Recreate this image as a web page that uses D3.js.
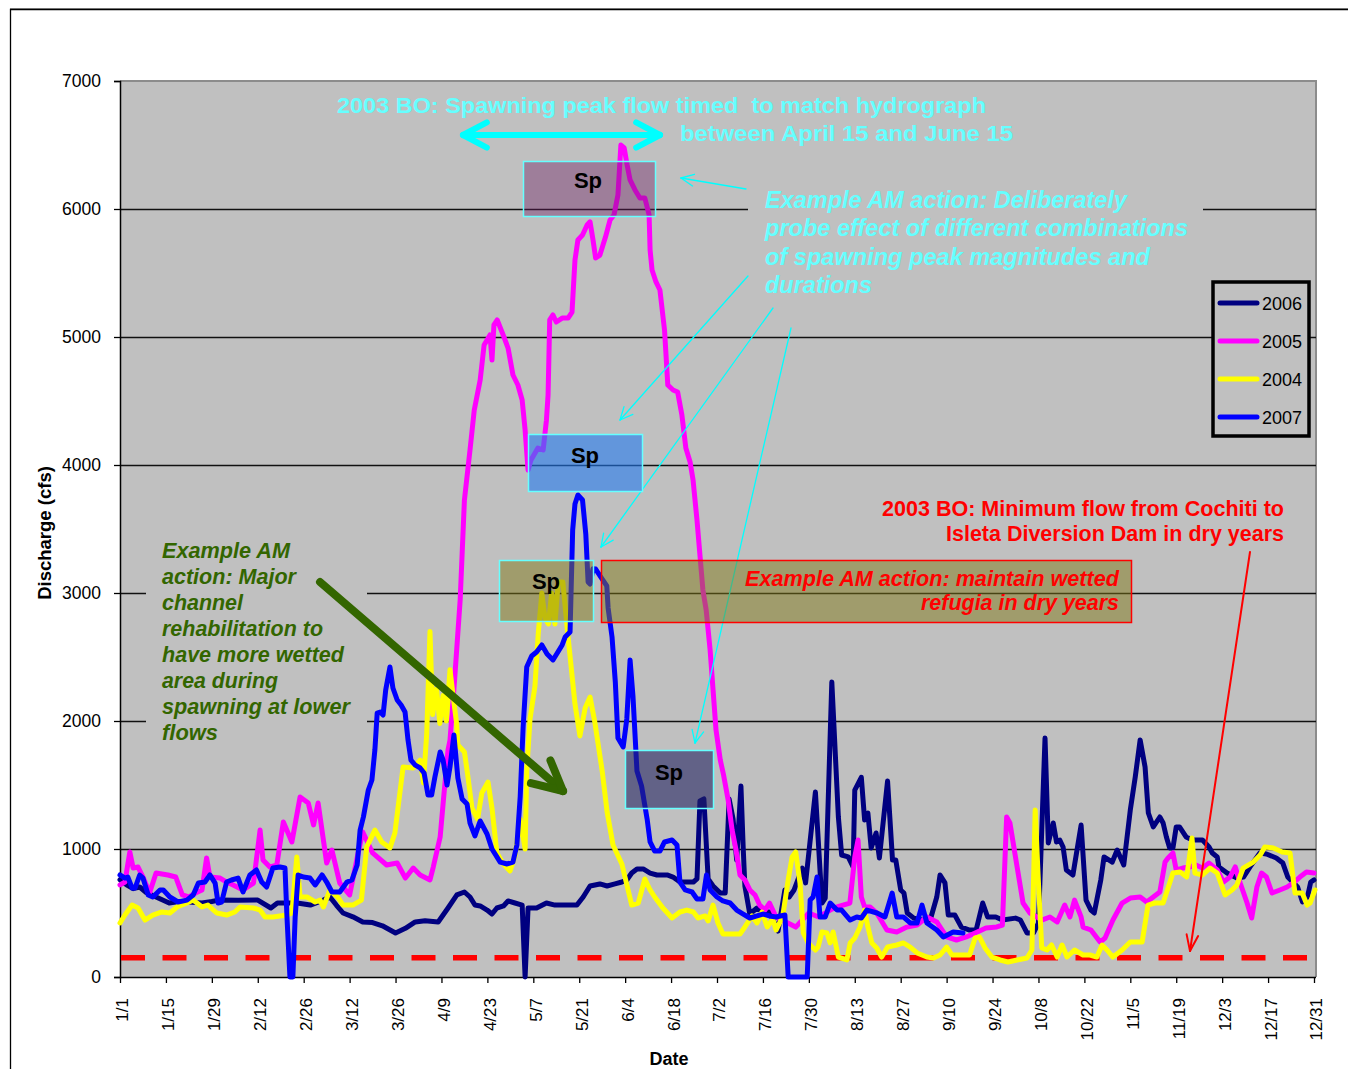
<!DOCTYPE html>
<html><head><meta charset="utf-8">
<script src="https://cdn.jsdelivr.net/npm/d3@7"></script>
<style>
body{margin:0;background:#fff}
svg{display:block}
text{font-family:"Liberation Sans",Arial,Helvetica,sans-serif}
</style>
</head><body>
<svg id="chart" width="1348" height="1069"></svg>
<script>
// ---------------- DATA ----------------
const tickDays = [0,14,28,42,56,70,84,98,112,126,140,154,168,182,196,210,224,238,252,266,280,294,308,322,336,350,364];
const tickLabels = ["1/1","1/15","1/29","2/12","2/26","3/12","3/26","4/9","4/23","5/7","5/21","6/4","6/18","7/2","7/16","7/30","8/13","8/27","9/10","9/24","10/8","10/22","11/5","11/19","12/3","12/17","12/31"];
const yTicks = [0,1000,2000,3000,4000,5000,6000,7000];
const seriesNames = ["2006","2005","2004","2007"];
const minFlow2003BO = 150;

// [day of year, discharge cfs]
const flow2006 = [[0,760],[2,720],[4,690],[6,703],[8,660],[11,625],[15,578],[18,590],[21,586],[25,578],[28,590],[30,601],[36,600],[42,601],[46,539],[48,578],[54,578],[58,562],[62,601],[64,625],[66,560],[68,500],[71,470],[74,430],[77,425],[80,400],[84,344],[87,380],[90,430],[93,440],[97,430],[100,539],[102.7,641],[105,664],[106.7,625],[108.2,562],[109.8,555],[111.9,523],[113.4,492],[114.9,539],[116.9,555],[118.3,594],[120.4,578],[122.6,562],[123.5,0],[124.4,539],[127,539],[130,578],[132.6,562],[135,562],[137.2,562],[139.3,562],[141.2,625],[143.3,711],[146.3,727],[148.5,711],[150.9,727],[153,742],[154.5,758],[156,812],[157.6,844],[159.5,844],[161.6,812],[163.7,797],[166.8,797],[168.6,781],[170.7,742],[172.8,742],[174.8,742],[175.9,766],[176.8,1375],[178,1391],[179.3,766],[180.8,711],[183,656],[184.5,656],[185.7,1391],[186.9,1234],[188,914],[189.3,1492],[190,1000],[190.5,711],[192,492],[194.2,539],[196,508],[198,508],[200.6,359],[202.7,680],[204,625],[205.5,680],[208,850],[209,735],[212,1445],[214,578],[215,617],[217,2305],[219,1250],[220,953],[222,938],[223.5,860],[224,1460],[226,1560],[227,1227],[228,1281],[229,1008],[230.5,1125],[231.5,930],[234,1531],[235.5,914],[236.5,914],[238,680],[239,656],[240,500],[242,460],[244.5,445],[247,445],[249,625],[250,797],[251.5,735],[252.5,484],[254.5,484],[256.5,390],[259,367],[261,367],[263,578],[264.5,469],[267,469],[269,445],[273,460],[274.5,445],[276.5,344],[278.5,344],[280,422],[282,1867],[283,1047],[284.5,1203],[285.5,1055],[286.5,1070],[287.5,1016],[288.5,836],[290.5,797],[293,1187],[294.5,600],[296,523],[297,500],[299,758],[300,938],[302.5,898],[304,992],[306,875],[308,1305],[309.5,1562],[311,1852],[312.5,1641],[313.5,1281],[315,1172],[317,1250],[318,1203],[319,1094],[320,1008],[321,1008],[322,1172],[323,1172],[325,1094],[327,1070],[330,1070],[332,1016],[333,969],[334.5,938],[335,860],[337.5,812],[340.5,773],[342.5,781],[344.5,860],[347.5,969],[349.5,961],[352.5,930],[354.5,890],[356,781],[359,703],[360.5,586],[362,625],[363,742],[364,758]];

const flow2005 = [[0,719],[1.5,742],[3,977],[4,851],[5.5,859],[7,781],[9,656],[11,812],[14.6,797],[17,781],[19,641],[21,625],[23,656],[25,680],[26.4,930],[27.4,781],[30.5,773],[32.5,742],[34.5,719],[37.5,680],[40.7,734],[42.7,1148],[43.6,914],[45.7,859],[47.8,875],[49.8,1211],[52.4,1055],[54.9,1406],[57.4,1359],[59,1188],[60.4,1359],[63,891],[64.6,992],[67,734],[70,641],[72.6,969],[74,1133],[77,969],[81.3,875],[84.5,891],[87,773],[89.4,851],[91.5,797],[94.5,758],[95.5,859],[97.6,1094],[98.6,1383],[100,1773],[100.6,1850],[102,2320],[103.7,2945],[105,3727],[106.7,4117],[108,4430],[109.8,4664],[111,4937],[112.8,5016],[113.4,4820],[114,5094],[115,5133],[116.8,5016],[118.3,4914],[119.8,4703],[121.3,4625],[122.6,4508],[123.5,4273],[124.4,3960],[125.3,4040],[127.4,4133],[129,4117],[130,4350],[130.5,4547],[131,5133],[132,5172],[133,5117],[134.8,5148],[136.6,5148],[137.8,5195],[138.7,5600],[139.6,5758],[141,5797],[142.4,5875],[143.3,5900],[144.2,5758],[145,5617],[146.3,5640],[148,5781],[149.4,5914],[150.6,5953],[151.8,6109],[152.7,6500],[153.7,6477],[154.6,6344],[155.5,6227],[157,6149],[158.5,6086],[160,6086],[161.3,5953],[161.6,5680],[162.2,5523],[163.4,5430],[164.6,5367],[166,5055],[167,4625],[168.6,4586],[170,4570],[171.3,4390],[172.5,4133],[173.8,4023],[174.7,3883],[175.9,3570],[176.8,3297],[177.7,3023],[178.7,2867],[179.9,2555],[180.8,2242],[181.7,1930],[183,1695],[184,1578],[185.4,1383],[186.6,1148],[187.8,992],[189,797],[190.5,758],[192,680],[193.6,640],[195,562],[196.6,523],[198,578],[200,469],[203,430],[206,390],[208,445],[210,500],[213,469],[216.5,523],[218.6,547],[222.5,578],[224,938],[225,1070],[226,625],[227,547],[228.7,547],[230.7,500],[233.8,367],[236.8,352],[239.9,390],[243,406],[246,469],[249,430],[252,313],[255,289],[258,313],[260.7,344],[264,383],[267.3,391],[269,406],[270.3,1250],[271.3,1203],[273.5,859],[275.3,578],[277.4,500],[279.5,469],[281,445],[283.5,469],[285.7,430],[288,562],[289.6,469],[291,601],[293,469],[293.6,390],[296,367],[298.8,273],[300.3,305],[302.7,445],[305.5,578],[308,617],[311,625],[313,586],[315,625],[317,664],[318.6,898],[319.5,930],[321,969],[322,836],[324,851],[326,859],[328,875],[330,851],[332,890],[334.5,836],[336.4,742],[338.4,781],[340,860],[341.5,734],[343.6,578],[345,461],[346.6,703],[348,812],[349.5,781],[351.2,656],[353.6,680],[355.8,703],[357.6,734],[359.7,781],[361.7,820],[364,812]];

const flow2004 = [[0,422],[1.5,484],[3.7,562],[5.5,539],[7.6,445],[10,484],[12.8,508],[15.2,500],[17.4,547],[20.4,578],[22.3,601],[25,547],[26.8,562],[29.5,500],[32.5,484],[35,508],[36.6,547],[40.7,539],[42.7,523],[44.2,469],[46.6,469],[50.9,484],[52.4,500],[53.9,938],[54.9,625],[57,625],[59.5,586],[61,601],[62,547],[64,680],[66.6,617],[68,562],[71,562],[73.6,601],[75.2,1016],[77.7,1148],[79.8,1055],[82.3,1008],[83.8,1125],[86.3,1641],[89.4,1633],[91.5,1695],[92.5,1516],[93.5,1900],[94.5,2700],[95.3,2050],[96.5,2250],[97.5,1980],[98.5,2200],[99.5,2000],[100.6,2400],[101.6,2187],[102.6,1984],[103,1812],[105,1758],[106,1578],[107.3,1320],[109,1234],[110.3,1437],[112.2,1523],[113.4,1320],[114.9,969],[116.9,883],[118.9,828],[120.4,945],[122,1234],[123.5,1000],[124,1609],[125,2016],[126.5,2273],[127.5,2680],[128.6,3000],[129.6,2797],[130.6,2758],[131.6,3000],[132.6,2758],[133.6,3086],[135,3086],[136.6,2656],[138.7,2133],[140.2,1883],[141.8,2102],[143.3,2187],[144.8,1984],[147,1609],[148.5,1289],[150.3,1031],[153,883],[154.9,680],[156,562],[158,578],[160,766],[161.6,680],[163,625],[165.5,539],[168.3,461],[170.7,508],[172.8,523],[174.8,508],[176.2,461],[178.4,477],[179.3,438],[180.8,562],[182.3,422],[183.8,336],[186.6,336],[189,336],[190.5,391],[192.7,477],[194.2,422],[195.7,508],[197.3,391],[199,453],[200,367],[202,469],[203.7,758],[204.9,938],[206,977],[207.3,734],[208.3,344],[209.8,266],[212,211],[212.8,234],[214,352],[215.5,344],[216.5,266],[217.4,352],[219,156],[221.6,133],[222.6,266],[224,305],[225.6,391],[227,523],[228,391],[229.2,266],[230.7,227],[232.2,156],[234,234],[236.8,250],[238.8,266],[240.9,234],[243,188],[246,156],[248,148],[250,172],[252,234],[253.6,172],[256,172],[259,172],[260.7,305],[262,313],[263.7,227],[265.8,156],[268.3,133],[270.7,117],[273.5,133],[276.5,148],[278,211],[279,1305],[280,734],[281,227],[282.6,211],[284,250],[285.7,156],[287.2,250],[288.7,156],[291,211],[293.6,172],[295.7,172],[297.8,156],[299.4,250],[300.9,211],[302.7,156],[305.5,211],[308,273],[311.6,273],[313.4,562],[315.5,578],[318,578],[319.5,695],[321,812],[323.2,820],[325.2,781],[326.8,1086],[327.7,812],[330,797],[332.3,851],[334.5,812],[336.9,641],[339,680],[340.5,719],[342.4,851],[345.5,898],[347.6,953],[349,1016],[351.6,1008],[354.3,977],[356.7,969],[358.2,656],[360.4,656],[361.9,562],[362.8,578],[364.3,680]];

const flow2007 = [[0,797],[1.5,773],[2.4,781],[3.7,695],[4.6,695],[6,797],[7,773],[8.6,641],[10,625],[12.2,680],[13.2,680],[15.2,625],[17.7,586],[20.4,601],[22.3,641],[23.9,734],[25.9,742],[27.4,797],[29,734],[29.9,578],[31,586],[32.5,742],[34,758],[36,773],[37.5,664],[39.6,797],[41.6,836],[43.2,742],[44.7,703],[46.6,851],[48.8,859],[50.3,851],[50.9,469],[51.8,0],[52.7,0],[53.4,469],[54.3,797],[55.9,781],[57.9,773],[59.5,719],[61.6,797],[63,742],[64.6,664],[67,664],[69.2,742],[70.7,758],[72.3,875],[73.2,1148],[74.2,1250],[75.7,1461],[76.8,1539],[77.7,1773],[78.4,2062],[79.3,2070],[80.2,2047],[81,2242],[82.3,2422],[83.2,2258],[84.5,2164],[85.7,2125],[86.9,2070],[87.8,1852],[88.7,1695],[90,1656],[91.5,1633],[92.7,1594],[93.9,1422],[95,1422],[96,1562],[97.6,1758],[98.5,1695],[99.7,1500],[100.6,1641],[101.8,1891],[103,1555],[104.3,1391],[105.8,1352],[106.7,1203],[108.2,1102],[109.8,1219],[111.9,1117],[113.4,1000],[115.9,898],[118,883],[119.8,898],[121,1031],[122,1406],[122.9,1953],[124,2422],[125.5,2508],[127,2539],[128.6,2594],[130.2,2523],[132,2477],[133.5,2539],[134.8,2594],[135.7,2656],[137.2,2695],[138,3492],[138.7,3695],[139.6,3766],[141,3727],[142,3461],[142.7,3086],[143.3,3070],[144.2,3190],[145,3187],[146.8,3117],[148.4,3055],[148.8,2883],[150,2656],[151,2305],[151.8,1867],[153.4,1797],[154.5,2016],[155.5,2477],[156.4,2187],[157.6,1609],[159,1492],[160.7,1234],[161.6,1055],[163,984],[164.6,984],[166,1055],[168.3,1070],[169.8,1031],[170.7,742],[172.3,680],[174.4,664],[175.9,609],[177.7,609],[178.8,797],[179.9,680],[182,625],[183.8,594],[186,578],[188,523],[190,492],[192,461],[194.2,477],[196,492],[198,477],[200,469],[202.7,484],[203.7,0],[209.5,0],[210.4,601],[211.3,625],[212.5,781],[213.4,469],[215,469],[216.5,578],[218.6,523],[220,523],[222.6,445],[224.6,469],[226,461],[227.7,523],[230.8,500],[233.2,469],[235.4,656],[236.8,469],[238.8,469],[240.9,422],[243,422],[244.5,562],[246,422],[249,367],[251,313],[254,352],[257,344]];

// ---------------- LAYOUT ----------------
const svg = d3.select("#chart");
const P = {left:120, right:1316, top:81, bottom:977};
const x = d3.scaleLinear().domain([0,364]).range([120,1314]);
const y = d3.scaleLinear().domain([0,7000]).range([P.bottom,P.top]);
const colors = {"2006":"#000080","2005":"#ff00ff","2004":"#ffff00","2007":"#0000ff"};
const seriesData = {"2006":flow2006,"2005":flow2005,"2004":flow2004,"2007":flow2007};
const GREY = "#c0c0c0";

// outer frame
svg.append("line").attr("x1",10).attr("x2",1348).attr("y1",8.5).attr("y2",8.5).attr("stroke","#9a9a9a").attr("stroke-width",1);
svg.append("path").attr("d","M10.5,1069 V9.5 H1348").attr("fill","none").attr("stroke","#000").attr("stroke-width",1.3);

// plot area
svg.append("rect").attr("x",P.left).attr("y",P.top).attr("width",P.right-P.left).attr("height",P.bottom-P.top).attr("fill",GREY);
svg.append("path").attr("d",`M${P.left},${P.top} H${P.right} V${P.bottom}`).attr("fill","none").attr("stroke","#8c8c8c").attr("stroke-width",2);

// gridlines
svg.append("g").selectAll("line").data(yTicks.filter(v=>v>0&&v<7000)).join("line")
  .attr("x1",P.left).attr("x2",P.right).attr("y1",d=>Math.round(y(d))+0.5).attr("y2",d=>Math.round(y(d))+0.5)
  .attr("stroke","#111").attr("stroke-width",1.3);

// text-box backgrounds covering gridlines
svg.append("rect").attr("x",748).attr("y",176).attr("width",455).attr("height",127).attr("fill",GREY);
svg.append("rect").attr("x",146).attr("y",530).attr("width",221).attr("height",222).attr("fill",GREY);

// y axis
const yAxis = svg.append("g").attr("transform",`translate(${P.left},0)`)
  .call(d3.axisLeft(y).tickValues(yTicks).tickSize(6).tickPadding(13).tickFormat(d3.format("d")));
yAxis.select(".domain").attr("stroke","#000").attr("stroke-width",1.5);
yAxis.selectAll(".tick line").attr("stroke","#000").attr("stroke-width",1.3);
yAxis.selectAll("text").attr("font-size",17.5).attr("fill","#000").style("font-family","'Liberation Sans',Arial,sans-serif");

// x axis
const xAxis = svg.append("g").attr("transform",`translate(0,${P.bottom})`)
  .call(d3.axisBottom(x).tickValues(tickDays).tickSize(6).tickFormat((d,i)=>tickLabels[i]));
xAxis.select(".domain").attr("d",`M${P.left},0.5H${P.right}`).attr("stroke","#000").attr("stroke-width",1.5);
xAxis.selectAll(".tick line").attr("stroke","#000").attr("stroke-width",1.3);
xAxis.selectAll("text").attr("font-size",17).attr("fill","#000").style("font-family","'Liberation Sans',Arial,sans-serif")
  .attr("transform","rotate(-90)").attr("x",-21).attr("y",2).attr("dy","0.35em").style("text-anchor","end");

// axis titles
svg.append("text").attr("transform","translate(51,533) rotate(-90)").attr("text-anchor","middle")
  .attr("font-size",18.5).attr("font-weight","bold").text("Discharge (cfs)");
svg.append("text").attr("x",669).attr("y",1065).attr("text-anchor","middle")
  .attr("font-size",18).attr("font-weight","bold").text("Date");

// minimum flow dashed line
svg.append("line").attr("x1",x(0)+1).attr("x2",x(362)).attr("y1",y(minFlow2003BO)).attr("y2",y(minFlow2003BO))
  .attr("stroke","#ff0000").attr("stroke-width",5.5).attr("stroke-dasharray","24,17.5");

// series lines
const line = d3.line().x(d=>x(d[0])).y(d=>y(d[1]));
svg.append("g").selectAll("path").data(seriesNames).join("path")
  .attr("d",n=>line(seriesData[n])).attr("fill","none").attr("stroke",n=>colors[n])
  .attr("stroke-width",5).attr("stroke-linejoin","round").attr("stroke-linecap","round");

// ---------------- ANNOTATIONS ----------------
function arrowHead(g, tip, from, len, ang, color, w){
  const a = Math.atan2(from[1]-tip[1], from[0]-tip[0]);
  [a-ang, a+ang].forEach(t=>{
    g.append("line").attr("x1",tip[0]).attr("y1",tip[1])
      .attr("x2",tip[0]+len*Math.cos(t)).attr("y2",tip[1]+len*Math.sin(t))
      .attr("stroke",color).attr("stroke-width",w).attr("stroke-linecap","round");
  });
}
function arrow(g, from, tip, color, w, len, ang){
  g.append("line").attr("x1",from[0]).attr("y1",from[1]).attr("x2",tip[0]).attr("y2",tip[1])
    .attr("stroke",color).attr("stroke-width",w).attr("stroke-linecap","round");
  arrowHead(g, tip, from, len, ang, color, w);
}
const ann = svg.append("g");
const deg = Math.PI/180;

// thin cyan pointer arrows
arrow(ann,[746,189],[681,178],"#00ffff",1.3,14,25*deg);
arrow(ann,[748,276],[620,420],"#00ffff",1.3,14,25*deg);
arrow(ann,[773,308],[601,547],"#00ffff",1.3,14,25*deg);
arrow(ann,[791,328],[695,743],"#00ffff",1.3,14,25*deg);

// Sp boxes
const boxes = [
  {x:523,y:161,w:132,h:55,fill:"rgba(107,27,97,0.4)",stroke:"#66ffff",label:"Sp",lx:588,ly:180},
  {x:528,y:434,w:114,h:57,fill:"rgba(35,122,239,0.6)",stroke:"#66ffff",label:"Sp",lx:585,ly:455},
  {x:499,y:560,w:94,h:61,fill:"rgba(128,120,24,0.5)",stroke:"#66ffff",label:"Sp",lx:546,ly:581},
  {x:625,y:750,w:88,h:58,fill:"rgba(35,35,97,0.6)",stroke:"#66ffff",label:"Sp",lx:669,ly:772},
  {x:601,y:560,w:530,h:62,fill:"rgba(128,120,24,0.5)",stroke:"#ff0000",label:null}
];
boxes.forEach(b=>{
  ann.append("rect").attr("x",b.x+0.5).attr("y",b.y+0.5).attr("width",b.w).attr("height",b.h)
    .attr("fill",b.fill).attr("stroke",b.stroke).attr("stroke-width",1.5);
  if(b.label){
    ann.append("text").attr("x",b.lx).attr("y",b.ly+7.5).attr("text-anchor","middle")
      .attr("font-size",22).attr("font-weight","bold").attr("fill","#000").text(b.label);
  }
});

// cyan double arrow
arrow(ann,[560,135],[463,135],"#00ffff",6,27,28*deg);
arrow(ann,[560,135],[660,135],"#00ffff",6,27,28*deg);

// green thick arrow
arrow(ann,[320,582],[563,791],"#336600",8,33,27*deg);

// red thin arrow
arrow(ann,[1250,552],[1190,951],"#ff0000",2,17,20*deg);

// text helper
function label(txt, xs, yb, w, opts){
  const t = ann.append("text").attr("x",xs).attr("y",yb)
    .attr("font-size",opts.size).attr("font-weight","bold").attr("fill",opts.color)
    .attr("textLength",w).attr("lengthAdjust","spacingAndGlyphs")
    .style("white-space","pre").text(txt);
  if(opts.italic) t.attr("font-style","italic");
  return t;
}
const cyanTxt = "#66ffff";
label("2003 BO: Spawning peak flow timed  to match hydrograph",337,113,649,{size:21.5,color:cyanTxt});
label("between April 15 and June 15",680,141,333,{size:21.5,color:cyanTxt});

const cyanLines = [["Example AM action: Deliberately",362],["probe effect of different combinations",423],["of spawning peak magnitudes and",385],["durations",107]];
cyanLines.forEach((l,i)=>label(l[0],765,208+i*28.3,l[1],{size:23.5,color:cyanTxt,italic:true}));

const greenLines = [["Example AM",128],["action: Major",134],["channel",81],["rehabilitation to",161],["have more wetted",182],["area during",116],["spawning at lower",188],["flows",56]];
greenLines.forEach((l,i)=>label(l[0],162,558+i*26,l[1],{size:21.5,color:"#336600",italic:true}));

label("Example AM action: maintain wetted",1119-374,586,374,{size:21.5,color:"#ff0000",italic:true});
label("refugia in dry years",1119-198,610,198,{size:21.5,color:"#ff0000",italic:true});

label("2003 BO: Minimum flow from Cochiti to",1284-402,516,402,{size:21.5,color:"#ff0000"});
label("Isleta Diversion Dam in dry years",1284-338,541,338,{size:21.5,color:"#ff0000"});

// ---------------- LEGEND ----------------
const lg = svg.append("g");
lg.append("rect").attr("x",1213).attr("y",282).attr("width",96).attr("height",154)
  .attr("fill",GREY).attr("stroke","#000").attr("stroke-width",3.5);
seriesNames.forEach((n,i)=>{
  const ly = 303 + i*38;
  lg.append("line").attr("x1",1220).attr("x2",1257).attr("y1",ly).attr("y2",ly)
    .attr("stroke",colors[n]).attr("stroke-width",5).attr("stroke-linecap","round");
  lg.append("text").attr("x",1262).attr("y",ly+6.5).attr("font-size",18).attr("fill","#000").text(n);
});
</script>
</body></html>
